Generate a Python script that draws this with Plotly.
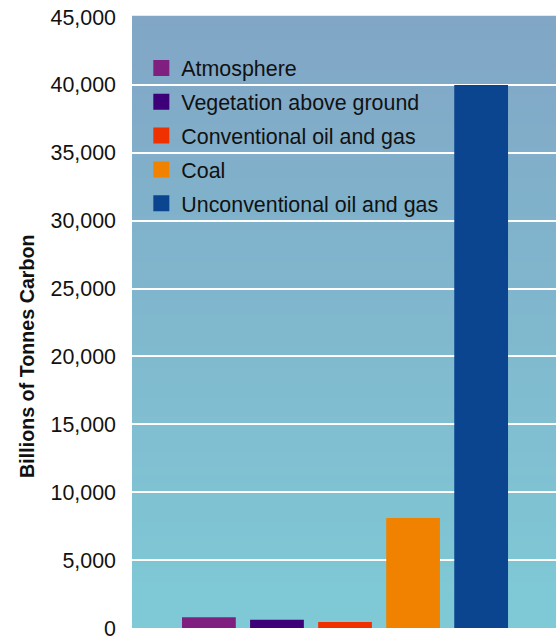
import plotly.graph_objects as go

categories = ["Atmosphere", "Vegetation above ground", "Conventional oil and gas", "Coal", "Unconventional oil and gas"]
values = [800, 600, 450, 8100, 40000]
colors = ["#7f1f80", "#3e0078", "#ef3100", "#f08200", "#0b4590"]
y_ticks = [0, 5000, 10000, 15000, 20000, 25000, 30000, 35000, 40000, 45000]
y_ticklabels = ["0", "5,000", "10,000", "15,000", "20,000", "25,000", "30,000", "35,000", "40,000", "45,000"]

fig = go.Figure()
for i, (c, v, col) in enumerate(zip(categories, values, colors)):
    fig.add_trace(go.Bar(x=[c], y=[v], marker=dict(color=col, line=dict(width=0)),
                         width=0.79, showlegend=False, name=c))
for c, col in zip(categories, colors):
    fig.add_trace(go.Scatter(x=[None], y=[None], mode="markers", name=c, legendgroup=c,
                             marker=dict(symbol="square", size=16, color=col)))

# gradient background
top = (0x81, 0xa6, 0xc6)
bot = (0x7f, 0xca, 0xd6)
n = 80
for k in range(n):
    t = (k + 0.5) / n
    r = round(bot[0] + (top[0] - bot[0]) * t)
    g = round(bot[1] + (top[1] - bot[1]) * t)
    b = round(bot[2] + (top[2] - bot[2]) * t)
    fig.add_shape(type="rect", xref="paper", yref="paper", x0=0, x1=1, y0=k / n, y1=(k + 1) / n + 0.002,
                  fillcolor=f"rgb({r},{g},{b})", line=dict(width=0), layer="below")

fig.update_layout(
    width=556, height=639,
    margin=dict(l=132, r=0, t=17, b=11),
    paper_bgcolor="white", plot_bgcolor="rgba(0,0,0,0)",
    barmode="overlay",
    font=dict(family="Liberation Sans, Arial", size=21, color="#111"),
    showlegend=True,
    legend=dict(x=0.022, y=0.95, xanchor="left", yanchor="top", bgcolor="rgba(0,0,0,0)",
                font=dict(size=21.4, color="#111"), traceorder="grouped", tracegroupgap=3,
                itemsizing="trace"),
    xaxis=dict(type="category", range=[-1.13, 5.1], showticklabels=False, showgrid=False,
               zeroline=False, showline=False, ticks=""),
    yaxis=dict(range=[0, 45000], tickvals=y_ticks, ticktext=y_ticklabels, showgrid=True,
               gridcolor="white", gridwidth=2, zeroline=False, showline=False, ticks="",
               ticklabelstandoff=15, ticklabeloverflow="allow",
               tickfont=dict(size=21.4, color="#111")),
    annotations=[dict(text="<b>Billions of Tonnes Carbon</b>", textangle=-90, xref="paper", yref="paper",
                      x=-0.248, y=0.445, xanchor="center", yanchor="middle", showarrow=False,
                      font=dict(family="Liberation Sans", size=19.7, color="#111"))],
)
fig.write_html("out.html")
